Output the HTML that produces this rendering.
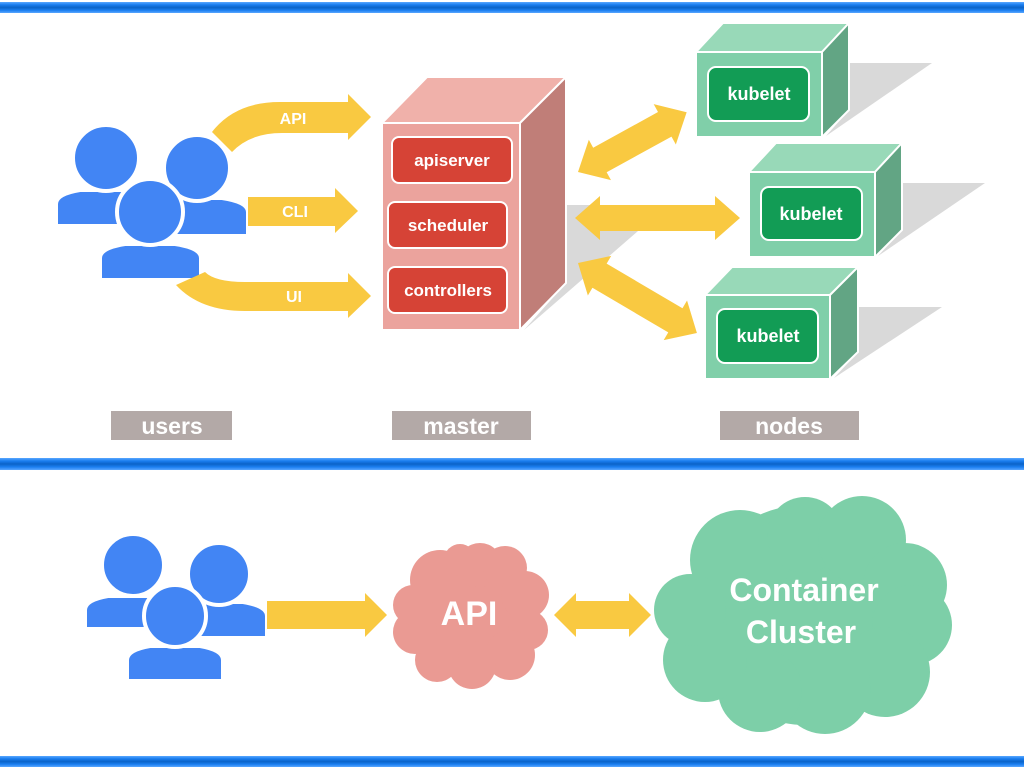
<!DOCTYPE html>
<html><head><meta charset="utf-8"><style>html,body{margin:0;padding:0;background:#fff}svg{display:block}</style></head>
<body>
<svg width="1024" height="768" viewBox="0 0 1024 768" xmlns="http://www.w3.org/2000/svg" font-family="'Liberation Sans', sans-serif">
<defs>
<linearGradient id="bar" x1="0" y1="0" x2="0" y2="1">
<stop offset="0" stop-color="#5aa7ff"/><stop offset="0.25" stop-color="#1a7ef0"/><stop offset="0.5" stop-color="#0b63c8"/><stop offset="0.75" stop-color="#1a7ef0"/><stop offset="1" stop-color="#5aa7ff"/>
</linearGradient>
<g id="dbl"><polygon points="0,0 25,-23 25,-14 L,-14" /></g>
</defs>
<rect x="0" y="2" width="1024" height="11" fill="url(#bar)"/>
<rect x="0" y="458" width="1024" height="12" fill="url(#bar)"/>
<rect x="0" y="756" width="1024" height="11" fill="url(#bar)"/>

<!-- users top -->
<g fill="#4285f4" stroke="#fff" stroke-width="4">
<path d="M56 226 L56 204 Q56 194 80 190 L130 190 Q154 194 154 204 L154 226 Z"/>
<circle cx="106" cy="158" r="33"/>
<path d="M150 236 L150 212 Q150 202 175 198 L222 198 Q248 202 248 212 L248 236 Z"/>
<circle cx="197" cy="168" r="33"/>
<path d="M100 280 L100 258 Q100 248 125 244 L175 244 Q201 248 201 258 L201 280 Z"/>
<circle cx="150" cy="212" r="33"/>
</g>

<!-- user arrows -->
<g fill="#f9c941">
<path d="M212 132 Q235 102 280 102 L348 102 L348 94 L371 117 L348 140 L348 133 L282 133 Q250 133 232 152 Z"/>
<path d="M248 197 L335 197 L335 188 L358 211 L335 233 L335 226 L248 226 Z"/>
<path d="M176 285 L205 272 Q215 282 245 282 L348 282 L348 273 L371 296 L348 318 L348 311 L245 311 Q200 311 176 285 Z"/>
</g>
<g fill="#fff" font-weight="bold" font-size="16" text-anchor="middle">
<text x="293" y="124">API</text><text x="295" y="217">CLI</text><text x="294" y="302">UI</text>
</g>

<!-- shadows -->
<g fill="#d9d9d9">
<polygon points="566,205 668,205 524,330 566,283"/>
<polygon points="849,63 932,63 826,136 849,110"/>
<polygon points="902,183 985,183 878,256 902,230"/>
<polygon points="858,307 942,307 834,378 858,352"/>
</g>

<!-- master -->
<g stroke="#fff" stroke-width="2">
<polygon points="382,123 427,77 566,77 520,123" fill="#f0b1aa"/>
<polygon points="520,123 566,77 566,283 520,330" fill="#c07e78"/>
<rect x="382" y="123" width="138" height="207" fill="#eba39d"/>
</g>
<g fill="#d64336" stroke="#fff" stroke-width="2">
<rect x="392" y="137" width="120" height="46" rx="7"/>
<rect x="388" y="202" width="119" height="46" rx="7"/>
<rect x="388" y="267" width="119" height="46" rx="7"/>
</g>
<g fill="#fff" font-weight="bold" font-size="17" text-anchor="middle">
<text x="452" y="166">apiserver</text><text x="448" y="231">scheduler</text><text x="448" y="296">controllers</text>
</g>

<!-- double arrows -->
<g fill="#f9c941">
<g transform="translate(578,172) rotate(-28.8)"><polygon points="0,0 25,-23 25,-14 99,-14 99,-23 124,0 99,23 99,14 25,14 25,23"/></g>
<g transform="translate(575,218)"><polygon points="0,0 25,-22 25,-13 140,-13 140,-22 165,0 140,22 140,13 25,13 25,22"/></g>
<g transform="translate(578,263) rotate(30.5)"><polygon points="0,0 25,-23 25,-14 113,-14 113,-23 138,0 113,23 113,14 25,14 25,23"/></g>
</g>

<!-- nodes -->
<g stroke="#fff" stroke-width="2">
<polygon points="696,52 723,23 849,23 822,52" fill="#98d9b8"/>
<polygon points="822,52 849,23 849,110 822,137" fill="#62a584"/>
<rect x="696" y="52" width="126" height="85" fill="#80cfa9"/>
<rect x="708" y="67" width="101" height="54" rx="8" fill="#129c55"/>
<polygon points="749,172 776,143 902,143 875,172" fill="#98d9b8"/>
<polygon points="875,172 902,143 902,230 875,257" fill="#62a584"/>
<rect x="749" y="172" width="126" height="85" fill="#80cfa9"/>
<rect x="761" y="187" width="101" height="53" rx="8" fill="#129c55"/>
<polygon points="705,295 732,267 858,267 830,295" fill="#98d9b8"/>
<polygon points="830,295 858,267 858,352 830,379" fill="#62a584"/>
<rect x="705" y="295" width="125" height="84" fill="#80cfa9"/>
<rect x="717" y="309" width="101" height="54" rx="8" fill="#129c55"/>
</g>
<g fill="#fff" font-weight="bold" font-size="18" text-anchor="middle">
<text x="759" y="100">kubelet</text><text x="811" y="220">kubelet</text><text x="768" y="342">kubelet</text>
</g>

<!-- labels -->
<g fill="#b3a9a7"><rect x="111" y="411" width="121" height="29"/><rect x="392" y="411" width="139" height="29"/><rect x="720" y="411" width="139" height="29"/></g>
<g fill="#fff" font-weight="bold" font-size="23" text-anchor="middle">
<text x="172" y="434">users</text><text x="461" y="434">master</text><text x="789" y="434">nodes</text>
</g>

<!-- bottom users -->
<g fill="#4285f4" stroke="#fff" stroke-width="4">
<path d="M85 629 L85 610 Q85 600 108 596 L158 596 Q180 600 180 610 L180 629 Z"/>
<circle cx="133" cy="565" r="31"/>
<path d="M172 638 L172 616 Q172 606 195 602 L243 602 Q267 606 267 616 L267 638 Z"/>
<circle cx="219" cy="574" r="31"/>
<path d="M127 681 L127 660 Q127 650 150 646 L200 646 Q223 650 223 660 L223 681 Z"/>
<circle cx="175" cy="616" r="31"/>
</g>
<g fill="#f9c941">
<polygon points="267,601 365,601 365,593 387,615 365,637 365,629 267,629"/>
<polygon points="554,615 576,593 576,601 629,601 629,593 651,615 629,637 629,629 576,629 576,637"/>
</g>

<!-- API cloud -->
<g fill="#ea9a93">
<circle cx="470" cy="612" r="58"/>
<circle cx="440" cy="580" r="30"/><circle cx="480" cy="565" r="22"/><circle cx="505" cy="568" r="22"/>
<circle cx="525" cy="595" r="24"/><circle cx="528" cy="630" r="20"/><circle cx="510" cy="655" r="25"/>
<circle cx="472" cy="665" r="24"/><circle cx="437" cy="660" r="22"/><circle cx="415" cy="632" r="22"/><circle cx="413" cy="605" r="20"/>
<circle cx="460" cy="560" r="16"/>
</g>
<text x="469" y="625" fill="#fff" font-weight="bold" font-size="34" text-anchor="middle">API</text>

<!-- container cloud -->
<g fill="#7dcfa8">
<circle cx="805" cy="615" r="110"/>
<circle cx="740" cy="560" r="50"/><circle cx="805" cy="535" r="38"/><circle cx="862" cy="540" r="44"/>
<circle cx="905" cy="585" r="42"/><circle cx="912" cy="625" r="40"/><circle cx="885" cy="672" r="45"/>
<circle cx="825" cy="688" r="46"/><circle cx="760" cy="690" r="42"/><circle cx="705" cy="660" r="42"/>
<circle cx="690" cy="610" r="36"/>
</g>
<g fill="#fff" font-weight="bold" font-size="32" text-anchor="middle">
<text x="804" y="601">Container</text><text x="801" y="643">Cluster</text>
</g>
</svg>
</body></html>
